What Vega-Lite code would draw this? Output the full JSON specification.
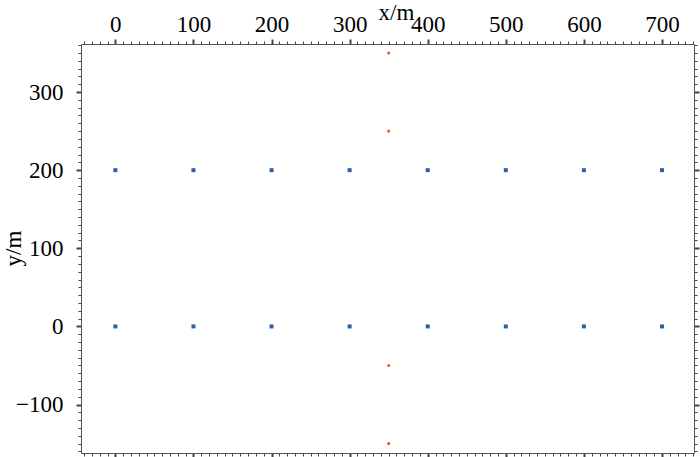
{
  "$schema": "https://vega.github.io/schema/vega-lite/v6.json",
  "width": 613,
  "height": 409,
  "autosize": {"type": "none"},
  "padding": {"left": 81, "top": 44, "right": 6, "bottom": 4},
  "background": "white",
  "config": {
    "view": {"stroke": null},
    "font": "Liberation Serif",
    "axis": {
      "grid": false,
      "domainColor": "#555555",
      "domainWidth": 1,
      "tickColor": "#444444",
      "labelFont": "Liberation Serif",
      "labelFontSize": 23,
      "labelColor": "black",
      "titleFont": "Liberation Serif",
      "titleFontSize": 23,
      "titleFontWeight": "normal",
      "titleColor": "black",
      "labelFlush": false,
      "labelOverlap": false
    }
  },
  "data": {
    "values": [
      {"x": 0, "y": 0, "type": "receiver"},
      {"x": 100, "y": 0, "type": "receiver"},
      {"x": 200, "y": 0, "type": "receiver"},
      {"x": 300, "y": 0, "type": "receiver"},
      {"x": 400, "y": 0, "type": "receiver"},
      {"x": 500, "y": 0, "type": "receiver"},
      {"x": 600, "y": 0, "type": "receiver"},
      {"x": 700, "y": 0, "type": "receiver"},
      {"x": 0, "y": 200, "type": "receiver"},
      {"x": 100, "y": 200, "type": "receiver"},
      {"x": 200, "y": 200, "type": "receiver"},
      {"x": 300, "y": 200, "type": "receiver"},
      {"x": 400, "y": 200, "type": "receiver"},
      {"x": 500, "y": 200, "type": "receiver"},
      {"x": 600, "y": 200, "type": "receiver"},
      {"x": 700, "y": 200, "type": "receiver"},
      {"x": 350, "y": 350, "type": "source"},
      {"x": 350, "y": 250, "type": "source"},
      {"x": 350, "y": -50, "type": "source"},
      {"x": 350, "y": -150, "type": "source"}
    ]
  },
  "resolve": {"axis": {"x": "independent", "y": "independent"}},
  "layer": [
    {
      "mark": {"type": "point", "shape": "square", "filled": true, "size": 16, "opacity": 1},
      "transform": [{"filter": "datum.type === 'receiver'"}],
      "encoding": {
        "x": {
          "field": "x", "type": "quantitative",
          "scale": {"domain": [-44, 741], "nice": false, "zero": false},
          "axis": {
            "orient": "top",
            "title": "x/m",
            "titleX": 315, "titleY": -32, "titleAlign": "center", "titleBaseline": "middle",
            "values": [-40,-30,-20,-10,0,10,20,30,40,50,60,70,80,90,100,110,120,130,140,150,160,170,180,190,200,210,220,230,240,250,260,270,280,290,300,310,320,330,340,350,360,370,380,390,400,410,420,430,440,450,460,470,480,490,500,510,520,530,540,550,560,570,580,590,600,610,620,630,640,650,660,670,680,690,700,710,720,730,740],
            "labelExpr": "datum.value % 100 === 0 ? datum.label : ''",
            "tickSize": {"condition": {"test": "datum.value % 100 === 0", "value": 5}, "value": 3},
            "tickWidth": {"condition": {"test": "datum.value % 100 === 0", "value": 2}, "value": 1},
            "labelPadding": 3
          }
        },
        "y": {
          "field": "y", "type": "quantitative",
          "scale": {"domain": [-162, 361.5], "nice": false, "zero": false},
          "axis": {
            "orient": "left",
            "title": "y/m",
            "titleX": -68, "titleY": 204, "titleAlign": "center", "titleBaseline": "middle", "titleAngle": -90,
            "values": [-160,-150,-140,-130,-120,-110,-100,-90,-80,-70,-60,-50,-40,-30,-20,-10,0,10,20,30,40,50,60,70,80,90,100,110,120,130,140,150,160,170,180,190,200,210,220,230,240,250,260,270,280,290,300,310,320,330,340,350,360],
            "labelExpr": "datum.value % 100 === 0 ? datum.label : ''",
            "tickSize": {"condition": {"test": "datum.value % 100 === 0", "value": 5}, "value": 3},
            "tickWidth": {"condition": {"test": "datum.value % 100 === 0", "value": 2}, "value": 1},
            "labelPadding": 13
          }
        },
        "color": {"value": "#2b5fb0"}
      }
    },
    {
      "mark": {"type": "point", "shape": "circle", "filled": true, "size": 10, "opacity": 1},
      "transform": [{"filter": "datum.type === 'source'"}],
      "encoding": {
        "x": {
          "field": "x", "type": "quantitative",
          "axis": {
            "orient": "bottom",
            "title": null,
            "values": [-40,-30,-20,-10,0,10,20,30,40,50,60,70,80,90,100,110,120,130,140,150,160,170,180,190,200,210,220,230,240,250,260,270,280,290,300,310,320,330,340,350,360,370,380,390,400,410,420,430,440,450,460,470,480,490,500,510,520,530,540,550,560,570,580,590,600,610,620,630,640,650,660,670,680,690,700,710,720,730,740],
            "labels": false,
            "tickSize": {"condition": {"test": "datum.value % 100 === 0", "value": 5}, "value": 3},
            "tickWidth": {"condition": {"test": "datum.value % 100 === 0", "value": 2}, "value": 1}
          }
        },
        "y": {
          "field": "y", "type": "quantitative",
          "axis": {
            "orient": "right",
            "title": null,
            "values": [-160,-150,-140,-130,-120,-110,-100,-90,-80,-70,-60,-50,-40,-30,-20,-10,0,10,20,30,40,50,60,70,80,90,100,110,120,130,140,150,160,170,180,190,200,210,220,230,240,250,260,270,280,290,300,310,320,330,340,350,360],
            "labels": false,
            "tickSize": {"condition": {"test": "datum.value % 100 === 0", "value": 5}, "value": 3},
            "tickWidth": {"condition": {"test": "datum.value % 100 === 0", "value": 2}, "value": 1}
          }
        },
        "color": {"value": "#f05a28"}
      }
    }
  ]
}
